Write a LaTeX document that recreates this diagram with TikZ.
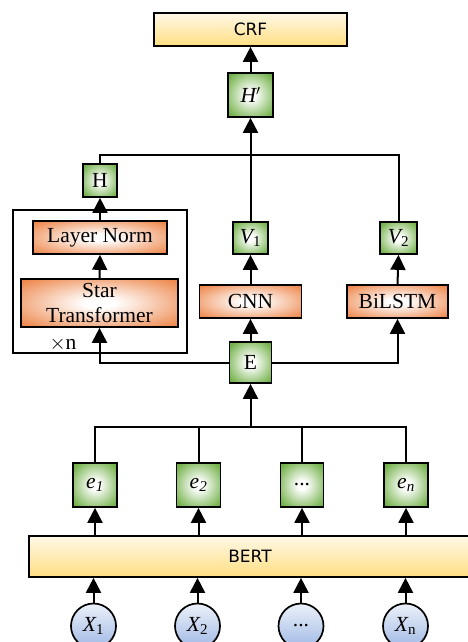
\documentclass[tikz,border=0pt]{standalone}
\usepackage{fontspec}
\setmainfont{Liberation Serif}
\setsansfont{DejaVu Sans}
\usetikzlibrary{arrows.meta}
\definecolor{gnode}{RGB}{112,176,70}
\definecolor{onode}{RGB}{236,125,60}
\definecolor{ytop}{RGB}{255,248,230}
\definecolor{ybot}{RGB}{255,222,130}
\definecolor{btop}{RGB}{236,241,250}
\definecolor{bbot}{RGB}{160,185,228}
\pgfdeclareradialshading{gshade}{\pgfpoint{0bp}{0bp}}{color(0bp)=(white); color(5bp)=(white); color(32bp)=(gnode); color(80bp)=(gnode)}
\pgfdeclareradialshading{oshade}{\pgfpoint{0bp}{0bp}}{color(0bp)=(white); color(5bp)=(white); color(36bp)=(onode); color(80bp)=(onode)}
\tikzset{
  every node/.style={font=\fontsize{21.5}{24}\selectfont},
  box/.style={draw=black, line width=1.7pt, inner sep=0pt},
  gbox/.style={box, shading=gshade},
  obox/.style={box, shading=oshade, align=center},
  ybox/.style={box, top color=ytop, bottom color=ybot, font=\sffamily\fontsize{17}{20}\selectfont},
  xcirc/.style={box, circle, minimum size=45pt, top color=btop, bottom color=bbot},
  ln/.style={line width=2pt, draw=black},
  arr/.style={ln, -{Triangle[width=15pt,length=15pt]}},
}
\begin{document}
\begin{tikzpicture}[x=1pt,y=-1pt]
\useasboundingbox (0,0) rectangle (468,642);
% outer repeat box
\draw[line width=1.5pt] (13,210) rectangle (187,353);
\node (xn) at (63,344) {$\times$n};
% top
\node[ybox, minimum width=193pt, minimum height=33pt] (crf) at (250.5,29.5) {CRF};
\node[gbox, minimum width=45pt, minimum height=44pt] (hp) at (250.5,95) {\itshape H$'$};
% left branch
\node[gbox, minimum width=34pt, minimum height=33pt] (h) at (100,180.5) {H};
\node[obox, minimum width=134pt, minimum height=33pt] (ln) at (100,237.5) {Layer Norm};
\node[obox, minimum width=157pt, minimum height=48pt, font=\fontsize{21.5}{25}\selectfont] (star) at (99.5,303) {Star\\Transformer};
% middle & right
\node[gbox, minimum width=35pt, minimum height=32pt] (v1) at (250.5,238) {{\itshape V}\textsubscript{1}};
\node[gbox, minimum width=37pt, minimum height=32pt] (v2) at (398.5,238) {{\itshape V}\textsubscript{2}};
\node[obox, minimum width=102pt, minimum height=33pt] (cnn) at (250.5,301.5) {CNN};
\node[obox, minimum width=101pt, minimum height=33pt] (bilstm) at (397.5,301.5) {BiLSTM};
\node[gbox, minimum width=42pt, minimum height=41pt] (e) at (250.5,362.5) {E};
% embeddings
\node[gbox, minimum width=44pt, minimum height=44pt] (e1) at (95,485) {{\itshape e\textsubscript{1}}};
\node[gbox, minimum width=44pt, minimum height=44pt] (e2) at (198.5,485) {{\itshape e\textsubscript{2}}};
\node[gbox, minimum width=43pt, minimum height=44pt] (e3) at (302,485) {...};
\node[gbox, minimum width=44pt, minimum height=44pt] (en) at (406,485) {{\itshape e\textsubscript{n}}};
\node[ybox, minimum width=442pt, minimum height=41pt] (bert) at (250,556.5) {BERT};
\node[xcirc] (x1) at (93.5,626) {{\itshape X}\textsubscript{1}};
\node[xcirc] (x2) at (197.5,626) {{\itshape X}\textsubscript{2}};
\node[xcirc] (x3) at (301,626) {...};
\node[xcirc] (x4) at (405.5,626) {{\itshape X}\textsubscript{n}};
\coordinate (bus) at (250.5,427);
\coordinate (top) at (250.5,155);
% connectors bottom
\foreach \c in {x1,x2,x3,x4} \draw[arr] (\c.north) -- (\c.north |- bert.south);
\foreach \c in {e1,e2,e3,en} \draw[arr] (\c.south |- bert.north) -- (\c.south);
\draw[ln] (e1.north) |- (bus) -| (en.north);
\draw[ln] (e2.north) |- (bus);
\draw[ln] (e3.north) |- (bus);
\draw[arr] (bus) -- (e.south);
% middle
\draw[arr] (e.north) -- (cnn.south);
\draw[arr] (e.west) -| (star.south);
\draw[arr] (e.east) -| (bilstm.south);
\draw[arr] (cnn.north) -- (v1.south);
\draw[arr] (bilstm.north) -- (v2.south);
\draw[arr] (star.north) -- (ln.south);
\draw[arr] (ln.north) -- (h.south);
\draw[ln] (h.north) |- (top) -| (v2.north);
\draw[arr] (v1.north) -- (hp.south);
\draw[arr] (hp.north) -- (crf.south);
\end{tikzpicture}
\end{document}
